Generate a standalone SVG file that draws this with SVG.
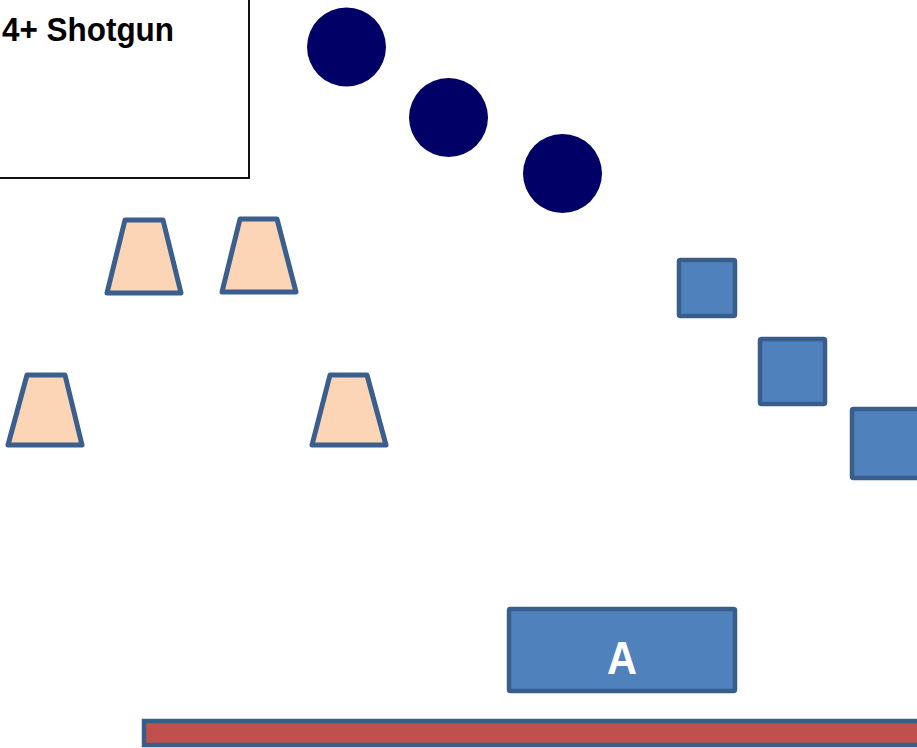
<svg xmlns="http://www.w3.org/2000/svg" width="917" height="748" viewBox="0 0 917 748">
<style>
.player{fill:#FBD5B5;stroke:#3A5F8E;stroke-width:5;stroke-linejoin:round}
.blk{fill:#4F81BD;stroke:#385D8A;stroke-width:4.5;stroke-linejoin:round}
.dot{fill:#000066}
.lbl{font-family:"Liberation Sans",Arial,sans-serif;font-weight:bold}
</style>
<rect x="0" y="0" width="917" height="748" fill="#fff"/>
<g id="title">
<rect x="-3" y="-3" width="252" height="181" fill="#fff" stroke="#111" stroke-width="2"/>
<text class="lbl" x="2" y="41" font-size="33" fill="#000" textLength="172" lengthAdjust="spacingAndGlyphs">4+ Shotgun</text>
</g>
<g id="dot1"><circle class="dot" cx="346.5" cy="47" r="39.5"/></g>
<g id="dot2"><circle class="dot" cx="448.5" cy="117.5" r="39.5"/></g>
<g id="dot3"><circle class="dot" cx="562.5" cy="173.5" r="39.5"/></g>
<g id="p1"><polygon class="player" points="125,220 163,220 181,293 107,293"/></g>
<g id="p2"><polygon class="player" points="240,219 277,219 296,292 222,292"/></g>
<g id="p3"><polygon class="player" points="27,375 65,375 82,445 8,445"/></g>
<g id="p4"><polygon class="player" points="330,375 367,375 386,445 312,445"/></g>
<g id="s1"><rect class="blk" x="679" y="260" width="56" height="56" rx="1.5"/></g>
<g id="s2"><rect class="blk" x="760" y="339" width="65" height="65" rx="1.5"/></g>
<g id="s3"><rect class="blk" x="852" y="409" width="80" height="69" rx="1.5"/></g>
<g id="boxA">
<rect class="blk" x="509" y="609" width="226" height="82" rx="1.5"/>
<text class="lbl" x="622" y="674" font-size="47" fill="#fff" text-anchor="middle" textLength="30" lengthAdjust="spacingAndGlyphs">A</text>
</g>
<g id="line">
<rect x="144" y="721" width="800" height="24" fill="#C0504D" stroke="#385D8A" stroke-width="4.5"/>
</g>
<g id="connectors"/>
</svg>
